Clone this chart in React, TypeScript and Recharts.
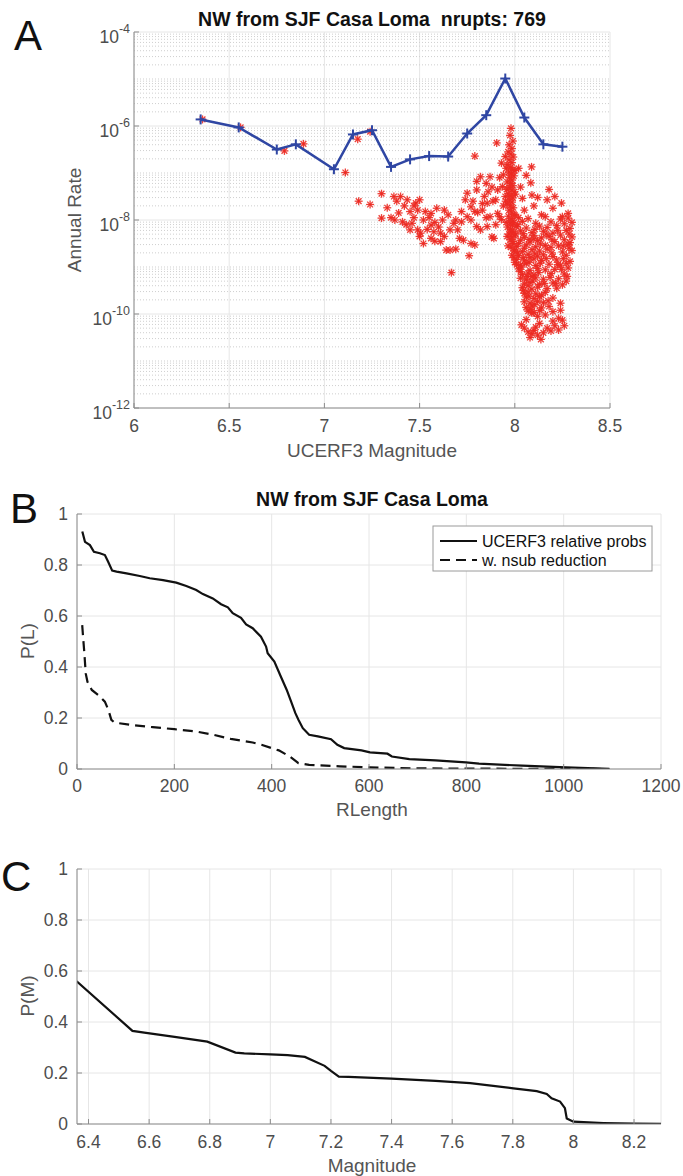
import React from 'react'
import {
  ScatterChart,
  Scatter,
  LineChart,
  Line,
  XAxis,
  YAxis,
  CartesianGrid,
  ReferenceLine,
} from 'recharts'

// ---------- panel A: annual rate vs magnitude ----------
// binned totals (blue line), log10 of rate
const binMags = [6.35, 6.55, 6.75, 6.85, 7.05, 7.15, 7.25, 7.35, 7.45, 7.55, 7.65, 7.75, 7.85, 7.95, 8.05, 8.15, 8.25]
const binLogRates = [-5.86, -6.03, -6.5, -6.39, -6.92, -6.18, -6.09, -6.87, -6.71, -6.64, -6.65, -6.16, -5.77, -4.99, -5.82, -6.39, -6.44]

// individual ruptures (red stars), [magnitude, log10 rate]
const nearLineRuptures = [
  [6.36, -5.86], [6.56, -6.03], [6.79, -6.53], [6.89, -6.38], [7.11, -6.99], [7.175, -6.28], [7.24, -6.12], [7.79, -6.64],
]
const leftArmRuptures = [
  [7.3, -7.44], [7.18, -7.6], [7.24, -7.67], [7.33, -7.74], [7.3, -7.96], [7.365, -7.5], [7.4, -7.5], [7.435, -7.57],
  [7.45, -7.82], [7.37, -8.0], [7.41, -8.04], [7.46, -8.07], [7.5, -7.57], [7.48, -7.64], [7.49, -7.79], [7.53, -7.82],
  [7.56, -7.86], [7.59, -7.75], [7.63, -7.79], [7.65, -7.89], [7.45, -8.21], [7.49, -8.21], [7.505, -8.28], [7.56, -8.11],
  [7.575, -8.25], [7.61, -8.28], [7.52, -8.5], [7.56, -8.39], [7.61, -8.46], [7.64, -8.64], [7.66, -8.64], [7.68, -8.07],
  [7.66, -8.21], [7.667, -9.12], [7.38, -7.6], [7.42, -7.7], [7.39, -7.85], [7.35, -7.95], [7.47, -7.95], [7.52, -8.0],
  [7.55, -7.95], [7.58, -8.05], [7.62, -8.0], [7.54, -8.2], [7.6, -8.15], [7.63, -8.35], [7.58, -8.45], [7.5, -8.35],
  [7.43, -8.1], [7.47, -7.7],
]
const risingArmRuptures = [
  [7.905, -6.36], [7.93, -6.79], [7.95, -6.65], [7.94, -7.04], [7.87, -7.08], [7.82, -7.08], [7.85, -7.22], [7.8, -7.18],
  [7.935, -7.29], [7.91, -7.36], [7.8, -7.36], [7.75, -7.43], [7.84, -7.5], [7.95, -7.5], [7.74, -7.57], [7.9, -7.57],
  [7.885, -7.6], [7.855, -7.64], [7.77, -7.72], [7.83, -7.79], [7.79, -7.82], [7.805, -7.84], [7.72, -7.82], [7.91, -7.86],
  [7.75, -7.93], [7.87, -7.93], [7.92, -7.93], [7.93, -7.99], [7.77, -8.0], [7.69, -8.0], [7.72, -8.04], [7.8, -8.14],
  [7.855, -8.14], [7.82, -8.21], [7.7, -8.21], [7.88, -8.36], [7.89, -8.39], [7.71, -8.39], [7.73, -8.43], [7.77, -8.5],
  [7.79, -8.53], [7.76, -8.76], [7.69, -8.62], [7.88, -7.3], [7.92, -7.1], [7.86, -7.4], [7.83, -7.65], [7.94, -7.7],
  [7.9, -8.1], [7.85, -7.95], [7.78, -7.6],
]
const columnRuptures = [
  [7.98, -6.05], [7.975, -6.2], [7.99, -6.32], [7.97, -6.4], [7.985, -6.48], [7.965, -6.55], [7.98, -6.6], [7.992, -6.66],
  [7.97, -6.72], [7.985, -6.78], [7.96, -6.82], [7.978, -6.88], [7.99, -6.93], [7.968, -6.98], [7.982, -7.02], [7.995, -7.06],
  [7.972, -7.1], [7.986, -7.15], [7.96, -7.19], [7.978, -7.22], [7.99, -7.27], [7.97, -7.31], [7.984, -7.36], [7.996, -7.4],
  [7.965, -7.44], [7.979, -7.48], [7.99, -7.53], [7.972, -7.57], [7.985, -7.62], [7.96, -7.66], [7.976, -7.7], [7.992, -7.74],
  [7.97, -7.79], [7.983, -7.83], [7.996, -7.88], [7.966, -7.92], [7.98, -7.97], [7.99, -8.02], [7.974, -8.06], [7.987, -8.11],
  [7.962, -8.15], [7.978, -8.2], [7.993, -8.25], [7.97, -8.3], [7.984, -8.36], [7.975, -8.42], [7.99, -8.5], [7.98, -8.58],
  [7.995, -8.66], [7.985, -8.75], [7.955, -6.9], [7.958, -7.35], [8.0, -6.95], [8.003, -7.45], [7.952, -7.6], [8.0, -7.9],
  [7.955, -8.05], [8.004, -8.3], [7.965, -8.55], [7.995, -8.8], [7.96, -8.35], [8.01, -8.95],
]
const upperRightRuptures = [
  [8.088, -6.87], [8.084, -7.21], [8.18, -7.35], [8.09, -7.47], [8.12, -7.52], [8.17, -7.57], [8.21, -7.5], [8.245, -7.64],
  [8.2, -7.75], [8.28, -7.86], [8.14, -7.89], [8.25, -7.93], [8.04, -7.54], [8.05, -7.79], [8.1, -7.7], [8.03, -7.3],
  [8.06, -7.05], [8.02, -6.9],
]
const mainCloudRuptures = [
  [8.02, -7.95], [8.07, -7.97], [8.16, -7.93], [8.24, -7.98], [8.28, -7.96],
  [7.99, -8.06], [8.04, -8.03], [8.11, -8.07], [8.19, -8.04], [8.26, -8.08], [8.3, -8.05],
  [8.01, -8.14], [8.06, -8.17], [8.13, -8.13], [8.17, -8.16], [8.22, -8.12], [8.29, -8.18],
  [7.98, -8.26], [8.03, -8.23], [8.09, -8.27], [8.15, -8.24], [8.2, -8.28], [8.27, -8.22],
  [8.0, -8.34], [8.05, -8.37], [8.1, -8.33], [8.14, -8.38], [8.18, -8.35], [8.24, -8.32], [8.3, -8.36],
  [7.99, -8.46], [8.03, -8.43], [8.08, -8.47], [8.12, -8.44], [8.21, -8.46], [8.26, -8.42], [8.29, -8.48],
  [8.01, -8.56], [8.06, -8.53], [8.11, -8.57], [8.16, -8.54], [8.19, -8.58], [8.23, -8.55], [8.28, -8.52],
  [8.0, -8.64], [8.04, -8.67], [8.09, -8.63], [8.13, -8.66], [8.17, -8.62], [8.25, -8.68], [8.3, -8.65],
  [8.02, -8.76], [8.07, -8.73], [8.12, -8.77], [8.15, -8.74], [8.2, -8.78], [8.27, -8.75],
  [8.01, -8.84], [8.05, -8.87], [8.1, -8.83], [8.14, -8.86], [8.22, -8.85], [8.29, -8.88],
  [8.03, -8.96], [8.06, -8.93], [8.11, -8.97], [8.18, -8.94], [8.24, -8.96], [8.27, -8.92],
  [8.02, -9.04], [8.08, -9.07], [8.12, -9.03], [8.16, -9.06], [8.21, -9.05], [8.28, -9.02],
  [8.04, -9.16], [8.07, -9.13], [8.1, -9.17], [8.19, -9.14], [8.26, -9.15],
  [8.03, -9.24], [8.06, -9.27], [8.11, -9.23], [8.15, -9.26], [8.23, -9.25], [8.27, -9.3],
  [8.05, -9.36], [8.08, -9.33], [8.13, -9.37], [8.2, -9.34], [8.25, -9.38],
  [8.04, -9.44], [8.09, -9.47], [8.12, -9.43], [8.17, -9.46], [8.22, -9.45],
  [8.05, -9.56], [8.07, -9.53], [8.11, -9.57], [8.16, -9.54], [8.24, -9.77],
  [8.06, -9.64], [8.1, -9.67], [8.13, -9.63], [8.2, -9.66],
  [8.05, -9.74], [8.08, -9.77], [8.12, -9.73], [8.15, -9.76],
  [8.06, -9.86], [8.09, -9.83], [8.14, -9.87], [8.18, -9.84],
  [8.07, -9.94], [8.1, -9.97], [8.13, -9.93], [8.2, -9.95], [8.24, -9.92],
  [8.0, -8.9], [8.03, -9.1], [8.08, -8.8], [8.05, -8.6], [8.09, -9.2], [8.07, -9.4], [8.02, -8.5], [8.1, -8.4],
  [8.015, -8.1], [8.045, -8.29], [8.075, -8.41], [8.105, -8.2], [8.135, -8.51], [8.165, -8.3], [8.195, -8.42], [8.225, -8.22],
  [8.255, -8.55], [8.285, -8.3], [8.015, -8.7], [8.045, -8.8], [8.075, -8.9], [8.105, -8.72], [8.135, -8.92], [8.165, -8.82],
  [8.195, -8.7], [8.225, -8.95], [8.255, -8.82], [8.285, -8.6], [8.035, -9.0], [8.065, -9.2], [8.095, -9.3], [8.125, -9.12],
  [8.155, -9.35], [8.185, -9.22], [8.215, -9.35], [8.245, -9.05], [8.275, -9.2], [8.045, -9.5], [8.075, -9.62], [8.105, -9.8],
  [8.14, -9.6], [8.175, -9.72], [8.085, -9.9], [8.12, -10.05],
]
const bottomClusterRuptures = [
  [8.035, -10.23], [8.05, -10.3], [8.07, -10.38], [8.09, -10.42], [8.1, -10.35], [8.12, -10.45], [8.137, -10.54],
  [8.15, -10.4], [8.17, -10.3], [8.19, -10.36], [8.21, -10.25], [8.23, -10.34], [8.25, -10.13], [8.26, -10.25],
  [8.23, -10.09], [8.16, -10.02], [8.09, -9.98], [8.06, -10.12], [8.13, -10.2], [8.2, -10.15], [8.08, -10.5], [8.11, -10.28],
]

const aXTicks = [6, 6.5, 7, 7.5, 8, 8.5]
const aYTicks = [1e-12, 1e-10, 1e-8, 1e-6, 1e-4]

// ---------- panel B: P(L) vs rupture length ----------
const relLength = [10.9, 16.4, 26.6, 34.8, 47, 57.3, 64, 72.3, 81.3, 101.7, 129, 149.5, 176.7, 204, 224.6, 245, 258.7, 279, 296, 310, 320, 337, 347.5, 361, 378, 388.5, 391.8, 405.5, 419, 431, 440, 448.7, 455, 464, 477, 495, 522, 535, 549, 584.6, 602, 638, 647, 683, 736.5, 799, 826, 915, 1005, 1094]
const relProb = [0.931, 0.891, 0.878, 0.852, 0.846, 0.839, 0.813, 0.778, 0.774, 0.767, 0.757, 0.748, 0.741, 0.731, 0.718, 0.702, 0.686, 0.669, 0.646, 0.634, 0.611, 0.593, 0.567, 0.552, 0.519, 0.48, 0.454, 0.421, 0.362, 0.31, 0.264, 0.219, 0.193, 0.16, 0.134, 0.128, 0.117, 0.095, 0.082, 0.073, 0.065, 0.06, 0.049, 0.039, 0.034, 0.026, 0.021, 0.013, 0.0065, 0.001]
const nsubLength = [10.7, 12.5, 15.2, 17.9, 21.5, 30.4, 43.8, 57.2, 64.4, 70.6, 76.9, 111, 155.5, 200, 245, 280.7, 316, 361, 379, 414.7, 437, 455, 477, 540, 602, 692, 826, 1005, 1094]
const nsubProb = [0.564, 0.518, 0.453, 0.375, 0.342, 0.31, 0.29, 0.264, 0.232, 0.193, 0.182, 0.173, 0.164, 0.156, 0.147, 0.134, 0.118, 0.104, 0.095, 0.073, 0.049, 0.023, 0.016, 0.0104, 0.0065, 0.0026, 0.0013, 0.0003, 0]

const bXTicks = [0, 200, 400, 600, 800, 1000, 1200]
const probTicks = [0, 0.2, 0.4, 0.6, 0.8, 1]

// ---------- panel C: P(M) vs magnitude ----------
const pmMag = [6.361, 6.545, 6.584, 6.684, 6.792, 6.885, 6.914, 7.0, 7.057, 7.114, 7.179, 7.2, 7.226, 7.258, 7.4, 7.545, 7.659, 7.802, 7.879, 7.912, 7.928, 7.956, 7.972, 7.978, 8.0, 8.05, 8.099, 8.2, 8.289]
const pmProb = [0.56, 0.365, 0.358, 0.342, 0.323, 0.28, 0.277, 0.273, 0.27, 0.263, 0.228, 0.208, 0.186, 0.185, 0.178, 0.169, 0.16, 0.14, 0.129, 0.118, 0.101, 0.088, 0.062, 0.022, 0.009, 0.006, 0.004, 0.002, 0.001]

const cXTicks = [6.4, 6.6, 6.8, 7, 7.2, 7.4, 7.6, 7.8, 8, 8.2]

// build chart rows
const ruptureData = [
  ...nearLineRuptures,
  ...leftArmRuptures,
  ...risingArmRuptures,
  ...columnRuptures,
  ...upperRightRuptures,
  ...mainCloudRuptures,
  ...bottomClusterRuptures,
].map(([m, l]) => ({ mag: m, rate: Math.pow(10, l) }))
const binData = binMags.map((m, i) => ({ mag: m, rate: Math.pow(10, binLogRates[i]) }))
const relData = relLength.map((x, i) => ({ x, p: relProb[i] }))
const nsubData = nsubLength.map((x, i) => ({ x, p: nsubProb[i] }))
const pmData = pmMag.map((x, i) => ({ x, p: pmProb[i] }))

// minor log grid: 2..9 x 10^d plus the unlabelled decades
const minorRates: number[] = []
for (let d = -12; d < -4; d++) {
  for (let k = 1; k <= 9; k++) {
    if (k === 1 && d % 2 === 0) continue
    minorRates.push(k * Math.pow(10, d))
  }
}

const FONT = 'Liberation Sans, Arial, Helvetica, sans-serif'
const AXIS = '#8c8c8c'
const TICK_TEXT = '#4d4d4d'
const GRID = '#e6e6e6'

const tickStyle = { fill: TICK_TEXT, fontSize: 17.5, fontFamily: FONT }

const NoLabel = () => <g />

const PowerTick = ({ x, y, payload }: any) => {
  const exp = Math.round(Math.log10(payload.value))
  return (
    <text x={x} y={y} textAnchor="end" fill={TICK_TEXT} fontFamily={FONT}>
      <tspan fontSize={17.5} dy={11}>10</tspan>
      <tspan fontSize={12.5} dy={-10}>{exp}</tspan>
    </text>
  )
}

const Asterisk = ({ cx, cy }: any) => {
  const r = 4
  const d = r * 0.72
  return (
    <g stroke="#ec2a22" strokeWidth={1.3} strokeOpacity={0.9}>
      <line x1={cx - r} y1={cy} x2={cx + r} y2={cy} />
      <line x1={cx} y1={cy - r} x2={cx} y2={cy + r} />
      <line x1={cx - d} y1={cy - d} x2={cx + d} y2={cy + d} />
      <line x1={cx - d} y1={cy + d} x2={cx + d} y2={cy - d} />
    </g>
  )
}

const PlusMark = ({ cx, cy }: any) => (
  <g stroke="#2f46a3" strokeWidth={2}>
    <line x1={cx - 5} y1={cy} x2={cx + 5} y2={cy} />
    <line x1={cx} y1={cy - 5} x2={cx} y2={cy + 5} />
  </g>
)

function PanelA() {
  return (
    <ScatterChart width={683} height={470} margin={{ top: 32, right: 73, bottom: 32, left: 64 }}>
      <CartesianGrid stroke={GRID} />
      {minorRates.map((v) => (
        <ReferenceLine key={v} y={v} stroke="#cfcfcf" strokeDasharray="1 2" />
      ))}
      <XAxis
        type="number"
        dataKey="mag"
        domain={[6, 8.5]}
        ticks={aXTicks}
        interval={0}
        allowDataOverflow
        height={30}
        stroke={AXIS}
        tickSize={-5}
        tickMargin={17}
        tick={tickStyle}
      />
      <YAxis
        type="number"
        dataKey="rate"
        scale="log"
        domain={[1e-12, 1e-4]}
        ticks={aYTicks}
        interval={0}
        allowDataOverflow
        width={70}
        stroke={AXIS}
        tickSize={-5}
        tickMargin={9}
        tick={<PowerTick />}
      />
      <XAxis xAxisId="top" orientation="top" type="number" domain={[6, 8.5]} ticks={aXTicks} interval={0} allowDataOverflow height={0} stroke={AXIS} tickSize={-5} tick={<NoLabel />} />
      <YAxis yAxisId="right" orientation="right" type="number" scale="log" domain={[1e-12, 1e-4]} ticks={aYTicks} interval={0} allowDataOverflow width={0} stroke={AXIS} tickSize={-5} tick={<NoLabel />} />
      <Scatter data={ruptureData} shape={<Asterisk />} isAnimationActive={false} />
      <Scatter
        data={binData}
        line={{ stroke: '#2f46a3', strokeWidth: 2.5 }}
        shape={<PlusMark />}
        isAnimationActive={false}
      />
    </ScatterChart>
  )
}

function PanelB() {
  return (
    <LineChart width={683} height={340} margin={{ top: 34, right: 22, bottom: 21, left: 27 }}>
      <CartesianGrid stroke={GRID} />
      <XAxis type="number" dataKey="x" domain={[0, 1200]} ticks={bXTicks} interval={0} allowDataOverflow height={30} stroke={AXIS} tickSize={-5} tickMargin={16} tick={tickStyle} />
      <YAxis type="number" domain={[0, 1]} ticks={probTicks} interval={0} allowDataOverflow width={50} stroke={AXIS} tickSize={-5} tickMargin={14} tick={tickStyle} />
      <XAxis xAxisId="top" orientation="top" type="number" domain={[0, 1200]} ticks={bXTicks} interval={0} allowDataOverflow height={0} stroke={AXIS} tickSize={-5} tick={<NoLabel />} />
      <YAxis yAxisId="right" orientation="right" type="number" domain={[0, 1]} ticks={probTicks} interval={0} allowDataOverflow width={0} stroke={AXIS} tickSize={-5} tick={<NoLabel />} />
      <Line data={relData} dataKey="p" type="linear" stroke="#111" strokeWidth={2.2} dot={false} isAnimationActive={false} />
      <Line data={nsubData} dataKey="p" type="linear" stroke="#111" strokeWidth={2.2} strokeDasharray="10 6" dot={false} isAnimationActive={false} />
    </LineChart>
  )
}

function PanelC() {
  return (
    <LineChart width={683} height={346} margin={{ top: 39, right: 22, bottom: 22, left: 27 }}>
      <CartesianGrid stroke={GRID} />
      <XAxis type="number" dataKey="x" domain={[6.362, 8.289]} ticks={cXTicks} interval={0} allowDataOverflow height={30} stroke={AXIS} tickSize={-5} tickMargin={17} tick={tickStyle} />
      <YAxis type="number" domain={[0, 1]} ticks={probTicks} interval={0} allowDataOverflow width={50} stroke={AXIS} tickSize={-5} tickMargin={14} tick={tickStyle} />
      <XAxis xAxisId="top" orientation="top" type="number" domain={[6.362, 8.289]} ticks={cXTicks} interval={0} allowDataOverflow height={0} stroke={AXIS} tickSize={-5} tick={<NoLabel />} />
      <YAxis yAxisId="right" orientation="right" type="number" domain={[0, 1]} ticks={probTicks} interval={0} allowDataOverflow width={0} stroke={AXIS} tickSize={-5} tick={<NoLabel />} />
      <Line data={pmData} dataKey="p" type="linear" stroke="#111" strokeWidth={2.2} dot={false} isAnimationActive={false} />
    </LineChart>
  )
}

// titles, axis labels, panel letters and the legend of panel B
function Annotations() {
  const label = { fontFamily: FONT, fontSize: 19, fill: '#555' }
  const letter = { fontFamily: 'Liberation Sans Narrow, Liberation Sans, Arial, sans-serif', fontSize: 42, fill: '#111' }
  return (
    <svg width={683} height={1176} style={{ position: 'absolute', left: 0, top: 0, pointerEvents: 'none' }}>
      <text x={14} y={50} {...letter}>A</text>
      <text x={10} y={523} {...letter}>B</text>
      <text x={1} y={891} {...letter}>C</text>

      <text x={372} y={26} textAnchor="middle" fontFamily={FONT} fontWeight="bold" fontSize={19.5} fill="#111" style={{ whiteSpace: 'pre' }}>
        {'NW from SJF Casa Loma  nrupts: 769'}
      </text>
      <text x={372} y={457} textAnchor="middle" {...label}>UCERF3 Magnitude</text>
      <text x={81} y={220} textAnchor="middle" transform="rotate(-90 81 220)" {...label}>Annual Rate</text>

      <text x={372} y={506} textAnchor="middle" fontFamily={FONT} fontWeight="bold" fontSize={19.5} fill="#111">
        NW from SJF Casa Loma
      </text>
      <text x={372} y={816} textAnchor="middle" {...label}>RLength</text>
      <text x={34} y={641} textAnchor="middle" transform="rotate(-90 34 641)" {...label}>P(L)</text>

      <text x={372} y={1172} textAnchor="middle" {...label}>Magnitude</text>
      <text x={34} y={996} textAnchor="middle" transform="rotate(-90 34 996)" {...label}>P(M)</text>

      <rect x={433} y={526} width={219} height={45} fill="#fff" stroke="#9a9a9a" strokeWidth={1} />
      <line x1={440} y1={541} x2={477} y2={541} stroke="#111" strokeWidth={2.2} />
      <line x1={440} y1={560} x2={477} y2={560} stroke="#111" strokeWidth={2.2} strokeDasharray="10 6" />
      <text x={482} y={547} fontFamily={FONT} fontSize={16} fill="#111">UCERF3 relative probs</text>
      <text x={482} y={566} fontFamily={FONT} fontSize={16} fill="#111">w. nsub reduction</text>
    </svg>
  )
}

export default function App() {
  return (
    <div style={{ position: 'absolute', left: 0, top: 0, width: 683, height: 1176, background: '#fff', overflow: 'hidden' }}>
      <div style={{ position: 'absolute', left: 0, top: 0 }}>
        <PanelA />
      </div>
      <div style={{ position: 'absolute', left: 0, top: 480 }}>
        <PanelB />
      </div>
      <div style={{ position: 'absolute', left: 0, top: 830 }}>
        <PanelC />
      </div>
      <Annotations />
    </div>
  )
}
